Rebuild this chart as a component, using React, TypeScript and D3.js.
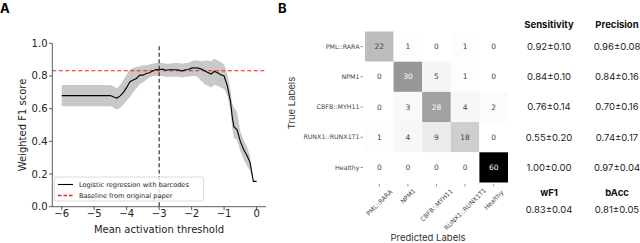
import React from "react";
import * as d3 from "d3";

// panel A: weighted F1 vs threshold
const thresholds = [-6.0, -5.5, -5.0, -4.5, -4.4, -4.3, -4.2, -4.1, -4.0, -3.9, -3.8, -3.7, -3.6, -3.5, -3.4, -3.3, -3.2, -3.1, -3.0, -2.9, -2.8, -2.7, -2.6, -2.5, -2.4, -2.3, -2.2, -2.1, -2.0, -1.9, -1.8, -1.7, -1.6, -1.5, -1.4, -1.3, -1.2, -1.1, -1.0, -0.9, -0.8, -0.75, -0.7, -0.6, -0.5, -0.4, -0.3, -0.2, -0.1, 0.0];
const f1Mean = [0.68, 0.68, 0.68, 0.68, 0.672, 0.665, 0.678, 0.7, 0.73, 0.765, 0.775, 0.785, 0.805, 0.805, 0.815, 0.82, 0.83, 0.84, 0.838, 0.842, 0.835, 0.838, 0.838, 0.838, 0.836, 0.83, 0.838, 0.84, 0.848, 0.85, 0.848, 0.842, 0.832, 0.822, 0.812, 0.828, 0.82, 0.808, 0.8, 0.74, 0.64, 0.55, 0.49, 0.47, 0.4, 0.35, 0.315, 0.27, 0.155, 0.155];
const f1Low = [0.615, 0.615, 0.615, 0.615, 0.605, 0.595, 0.605, 0.625, 0.65, 0.67, 0.7, 0.725, 0.75, 0.76, 0.775, 0.79, 0.8, 0.8, 0.8, 0.8, 0.795, 0.795, 0.795, 0.795, 0.795, 0.79, 0.795, 0.795, 0.8, 0.8, 0.79, 0.77, 0.75, 0.74, 0.73, 0.745, 0.74, 0.73, 0.72, 0.68, 0.59, 0.48, 0.42, 0.41, 0.34, 0.29, 0.25, 0.22, 0.155, 0.155];
const f1High = [0.745, 0.745, 0.745, 0.745, 0.735, 0.725, 0.745, 0.775, 0.81, 0.84, 0.85, 0.855, 0.86, 0.865, 0.865, 0.87, 0.875, 0.88, 0.88, 0.88, 0.875, 0.875, 0.878, 0.88, 0.88, 0.875, 0.88, 0.88, 0.89, 0.895, 0.895, 0.89, 0.895, 0.895, 0.89, 0.905, 0.895, 0.885, 0.87, 0.81, 0.71, 0.63, 0.61, 0.58, 0.46, 0.41, 0.37, 0.31, 0.155, 0.155];
const baseline = 0.832;
const chosenThreshold = -3;
const xTicks = [-6, -5, -4, -3, -2, -1, 0];
const yTicks = [0, 0.2, 0.4, 0.6, 0.8, 1.0];

// panel B: confusion matrix + metrics
const classes = ["PML::RARA", "NPM1", "CBFB::MYH11", "RUNX1::RUNX1T1", "Healthy"];
const matrix = [
  [22, 1, 0, 1, 0],
  [0, 30, 5, 1, 0],
  [0, 3, 28, 4, 2],
  [1, 4, 9, 18, 0],
  [0, 0, 0, 0, 60],
];
const sensitivity = ["0.92±0.10", "0.84±0.10", "0.76±0.14", "0.55±0.20", "1.00±0.00"];
const precision = ["0.96±0.08", "0.84±0.16", "0.70±0.16", "0.74±0.17", "0.97±0.04"];
const summaryNames = ["wF1", "bAcc"];
const summaryValues = ["0.83±0.04", "0.81±0.05"];

const fontA = "DejaVu Sans, sans-serif";
const fontB = "Inter, Roboto, sans-serif";
const labelCharW = 3.65; // rough width per char of the small tick labels

export default function App() {
  const x = d3.scaleLinear().domain([-6.29, 0.29]).range([52.3, 266]);
  const y = d3.scaleLinear().domain([0, 1]).range([206.7, 43.3]);
  const pts = thresholds.map((t, i) => ({ t, m: f1Mean[i], lo: f1Low[i], hi: f1High[i] }));
  const line = d3.line<any>().x((d) => x(d.t)).y((d) => y(d.m));
  const band = d3.area<any>().x((d) => x(d.t)).y0((d) => y(d.lo)).y1((d) => y(d.hi));

  const cx = d3.scaleBand().domain(classes).range([365, 508]);
  const cy = d3.scaleBand().domain(classes).range([31.5, 182.5]);
  const color = d3.scaleSequential(d3.interpolateGreys).domain([0, 60]);
  const colSens = 549;
  const colPrec = 617;

  return (
    <svg width={640} height={243} style={{ position: "absolute", left: 0, top: 0, background: "#fff" }}>
      <text x={0} y={13} fontFamily={fontB} fontWeight="bold" fontSize={13}>A</text>
      <text x={278} y={13} fontFamily={fontB} fontWeight="bold" fontSize={13}>B</text>

      {/* panel A */}
      <path d={band(pts) || ""} fill="#c8c8c8" stroke="none" />
      <line x1={x.range()[0]} x2={x.range()[1]} y1={y(baseline)} y2={y(baseline)} stroke="#ff1a1a" strokeWidth={1.2} strokeDasharray="4,2.5" />
      <line x1={x(chosenThreshold)} x2={x(chosenThreshold)} y1={y(1) + 3} y2={y(0)} stroke="#222" strokeWidth={1.1} strokeDasharray="4,2.5" />
      <path d={line(pts) || ""} fill="none" stroke="#000" strokeWidth={1.1} />
      <line x1={52.3} x2={52.3} y1={y(1)} y2={y(0)} stroke="#333" strokeWidth={0.8} />
      <line x1={52.3} x2={266} y1={y(0)} y2={y(0)} stroke="#333" strokeWidth={0.8} />
      {yTicks.map((v) => (
        <g key={v}>
          <line x1={49} x2={52.3} y1={y(v)} y2={y(v)} stroke="#333" strokeWidth={0.8} />
          <text x={47.5} y={y(v)} dy="0.35em" textAnchor="end" fontFamily={fontA} fontSize={10} fill="#222">{v.toFixed(1)}</text>
        </g>
      ))}
      {xTicks.map((v) => (
        <g key={v}>
          <line x1={x(v)} x2={x(v)} y1={y(0)} y2={y(0) + 3.5} stroke="#333" strokeWidth={0.8} />
          <text x={x(v)} y={217} textAnchor="middle" fontFamily={fontA} fontSize={10} fill="#222">{v < 0 ? "\u2212" + Math.abs(v) : v}</text>
        </g>
      ))}
      <text x={159} y={233} textAnchor="middle" fontFamily={fontA} fontSize={10} fill="#222">Mean activation threshold</text>
      <text transform="translate(26,125) rotate(-90)" textAnchor="middle" fontFamily={fontA} fontSize={10} fill="#222">Weighted F1 score</text>

      {/* legend */}
      <rect x={54.5} y={177} width={149} height={24} rx={2} fill="#fff" fillOpacity={0.8} stroke="#ccc" strokeWidth={0.7} />
      <line x1={58} x2={73} y1={184.5} y2={184.5} stroke="#000" strokeWidth={1.1} />
      <text x={79} y={184.5} dy="0.35em" fontFamily={fontA} fontSize={6.6} fill="#222">Logistic regression with barcodes</text>
      <line x1={58} x2={74} y1={195.5} y2={195.5} stroke="#ff1a1a" strokeWidth={1.4} strokeDasharray="3.5,2" />
      <text x={79} y={195.5} dy="0.35em" fontFamily={fontA} fontSize={6.6} fill="#222">Baseline from original paper</text>

      {/* panel B heatmap */}
      {matrix.map((row, i) =>
        row.map((v, j) => (
          <g key={i + "-" + j}>
            <rect x={cx(classes[j])} y={cy(classes[i])} width={cx.bandwidth()} height={cy.bandwidth()} fill={color(v)} />
            <text x={(cx(classes[j]) || 0) + cx.bandwidth() / 2} y={(cy(classes[i]) || 0) + cy.bandwidth() / 2} dy="0.35em" textAnchor="middle" fontFamily={fontA} fontSize={7.5} fill={v > 25 ? "#fff" : "#444"}>{v}</text>
          </g>
        ))
      )}
      {classes.map((c) => (
        <g key={"r" + c}>
          <line x1={360.5} x2={363} y1={(cy(c) || 0) + cy.bandwidth() / 2} y2={(cy(c) || 0) + cy.bandwidth() / 2} stroke="#666" strokeWidth={0.7} />
          <text x={359.5} y={(cy(c) || 0) + cy.bandwidth() / 2} dy="0.35em" textAnchor="end" fontFamily={fontA} fontSize={6.3} fill="#444">{c}</text>
        </g>
      ))}
      {classes.map((c) => {
        const px = (cx(c) || 0) + cx.bandwidth() / 2;
        const half = (c.length * labelCharW) / 2 * Math.SQRT1_2;
        return (
          <g key={"c" + c}>
            <line x1={px} x2={px} y1={184} y2={186.5} stroke="#666" strokeWidth={0.7} />
            <text transform={`translate(${px},${191 + half}) rotate(-45)`} textAnchor="middle" dy="0.35em" fontFamily={fontA} fontSize={6.3} fill="#444">{c}</text>
          </g>
        );
      })}
      <text transform="translate(295,103) rotate(-90)" textAnchor="middle" fontFamily={fontB} fontSize={9.5} fill="#333">True Labels</text>
      <text x={428} y={241} textAnchor="middle" fontFamily={fontB} fontSize={9.5} fill="#333">Predicted Labels</text>

      {/* metrics table */}
      <text x={colSens} y={25} dy="0.35em" textAnchor="middle" fontFamily={fontB} fontWeight="bold" fontSize={9.5} fill="#111">Sensitivity</text>
      <text x={colPrec} y={25} dy="0.35em" textAnchor="middle" fontFamily={fontB} fontWeight="bold" fontSize={9.5} fill="#111">Precision</text>
      {classes.map((c, i) => (
        <g key={"m" + c}>
          <text x={colSens} y={(cy(c) || 0) + cy.bandwidth() / 2} dy="0.35em" textAnchor="middle" fontFamily={fontB} fontSize={9.5} fill="#222">{sensitivity[i]}</text>
          <text x={colPrec} y={(cy(c) || 0) + cy.bandwidth() / 2} dy="0.35em" textAnchor="middle" fontFamily={fontB} fontSize={9.5} fill="#222">{precision[i]}</text>
        </g>
      ))}
      {summaryNames.map((n, i) => (
        <g key={n}>
          <text x={i === 0 ? colSens : colPrec} y={193} dy="0.35em" textAnchor="middle" fontFamily={fontB} fontWeight="bold" fontSize={9.5} fill="#111">{n}</text>
          <text x={i === 0 ? colSens : colPrec} y={209.5} dy="0.35em" textAnchor="middle" fontFamily={fontB} fontSize={9.5} fill="#222">{summaryValues[i]}</text>
        </g>
      ))}
    </svg>
  );
}
